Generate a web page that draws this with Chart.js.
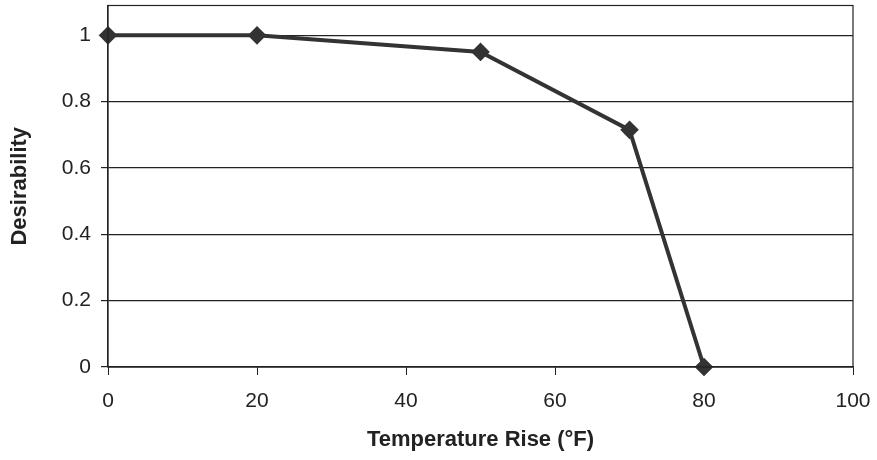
<!DOCTYPE html>
<html>
<head>
<meta charset="utf-8">
<script src="https://cdn.jsdelivr.net/npm/chart.js@4/dist/chart.umd.min.js"></script>
<style>
  html, body { margin: 0; padding: 0; background: #fff; overflow: hidden; }
  #wrap { width: 877px; height: 460px; overflow: hidden; }
  #desirChart { display: block; margin-top: -5px; }
</style>
</head>
<body>
<div id="wrap"><canvas id="desirChart" width="877" height="465"></canvas></div>
<script>
// temperature rise (°F) vs desirability
const tempRise = [0, 20, 50, 70, 80];
const desirability = [1, 1, 0.95, 0.715, 0];
const xTicks = [0, 20, 40, 60, 80, 100];
const yTicks = [0, 0.2, 0.4, 0.6, 0.8, 1];

const ink = '#333333';
const fam = 'Liberation Sans, Arial, sans-serif';

// frame around the plot area
const frameBox = {
    id: 'frameBox',
    afterDraw(chart) {
        const a = chart.chartArea;
        const c = chart.ctx;
        c.save();
        c.strokeStyle = '#222';
        c.lineWidth = 1.2;
        c.strokeRect(a.left, a.top, a.right - a.left, a.bottom - a.top);
        c.restore();
    }
};

const ctx = document.getElementById('desirChart').getContext('2d');
const chart = new Chart(ctx, {
    type: 'line',
    data: {
        datasets: [{
            data: tempRise.map((t, i) => ({ x: t, y: desirability[i] })),
            borderColor: ink,
            backgroundColor: ink,
            borderWidth: 4,
            pointStyle: 'rectRot',
            pointRadius: 6.5,
            pointBackgroundColor: ink,
            pointBorderColor: ink,
            tension: 0,
            clip: false,
        }]
    },
    options: {
        responsive: false,
        animation: false,
        layout: { padding: { left: 0, top: 1, right: 24, bottom: 0 } },
        plugins: {
            legend: { display: false },
            tooltip: { enabled: false },
        },
        scales: {
            x: {
                type: 'linear',
                min: 0,
                max: 100,
                afterBuildTicks: s => { s.ticks = xTicks.map(v => ({ value: v })); },
                grid: {
                    drawOnChartArea: false,
                    drawTicks: true,
                    tickLength: 8,
                    color: '#222',
                },
                border: { display: true, color: '#222', width: 1.2 },
                ticks: {
                    color: '#222',
                    padding: 14,
                    maxRotation: 0,
                    font: { family: fam, size: 21 },
                },
                title: {
                    display: true,
                    text: 'Temperature Rise (°F)',
                    color: '#222',
                    font: { family: fam, size: 22, weight: 'bold' },
                    padding: { top: 0, bottom: 7 },
                },
                afterFit: s => { s.height = 93; s.paddingLeft = 0; s.paddingRight = 0; },
            },
            y: {
                type: 'linear',
                min: 0,
                max: 1.09,
                afterBuildTicks: s => { s.ticks = yTicks.map(v => ({ value: v })); },
                grid: {
                    drawTicks: true,
                    tickLength: 7,
                    color: '#222',
                    lineWidth: 1.2,
                },
                border: { display: true, color: '#222', width: 1.2 },
                ticks: {
                    color: '#222',
                    padding: 10,
                    callback: v => String(Math.round(v * 10) / 10),
                    font: { family: fam, size: 21 },
                },
                title: {
                    display: true,
                    text: 'Desirability',
                    color: '#222',
                    font: { family: fam, size: 22, weight: 'bold' },
                    padding: { top: 7, bottom: 0 },
                },
                afterFit: s => { s.width = 108; s.paddingTop = 0; s.paddingBottom = 0; },
            }
        }
    },
    plugins: [frameBox]
});
</script>
</body>
</html>
